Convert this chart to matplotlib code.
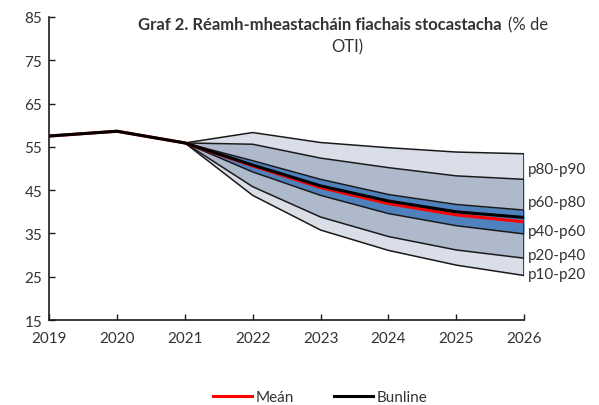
import matplotlib.pyplot as plt

plt.rcParams['font.family'] = ['Lato', 'DejaVu Sans']

# historia
anni_hist = [2019, 2020, 2021]
fiach_hist = [57.5, 58.6, 55.9]

# réamh-mheastacháin
anni = [2021, 2022, 2023, 2024, 2025, 2026]
p90 = [55.9, 58.3, 56.0, 54.8, 53.8, 53.4]
p80 = [55.9, 55.6, 52.4, 50.2, 48.3, 47.5]
p60 = [55.9, 51.8, 47.5, 44.0, 41.7, 40.4]
bunline = [55.9, 50.8, 46.0, 42.5, 40.0, 38.7]
mean = [55.9, 50.6, 45.6, 41.9, 39.3, 37.7]
p40 = [55.9, 49.2, 43.8, 39.6, 36.8, 34.9]
p20 = [55.9, 45.8, 38.8, 34.3, 31.2, 29.3]
p10 = [55.9, 43.8, 35.8, 31.1, 27.7, 25.3]

band_labels = ['p80-p90', 'p60-p80', 'p40-p60', 'p20-p40', 'p10-p20']
label_y = [50.0, 42.3, 35.6, 30.0, 25.6]

light = '#d9dee8'
mid = '#aeb9cc'
blue = '#4f81bd'
txt = '#333333'

fig = plt.figure(figsize=(5.99, 4.06), dpi=100)
ax = fig.add_axes([0.082, 0.209, 0.793, 0.747])

# bandaí
ax.fill_between(anni, p80, p90, color=light, lw=0)
ax.fill_between(anni, p60, p80, color=mid, lw=0)
ax.fill_between(anni, p40, p60, color=blue, lw=0)
ax.fill_between(anni, p20, p40, color=mid, lw=0)
ax.fill_between(anni, p10, p20, color=light, lw=0)

for s in [p90, p80, p60, p40, p20, p10]:
    ax.plot(anni, s, color='#1a1a1a', lw=1.1)
ax.vlines(anni[-1], p10[-1], p90[-1], color='#1a1a1a', lw=1.1)

ax.plot(anni_hist + anni[1:], fiach_hist + mean[1:], color='red', lw=2.2, label='Meán')
ax.plot(anni_hist + anni[1:], fiach_hist + bunline[1:], color='black', lw=2.2, label='Bunline')

for lab, yv in zip(band_labels, label_y):
    ax.text(2026.06, yv, lab, fontsize=11, color=txt, va='center', ha='left')

ax.set_xlim(2019, 2026)
ax.set_ylim(15, 85)
ax.set_xticks(range(2019, 2027))
ax.set_yticks(range(15, 86, 10))
ax.tick_params(direction='in', length=4, width=1, labelsize=11, labelcolor=txt, color='#1a1a1a', pad=5)
ax.tick_params(axis='x', pad=8)
for sp in ['top', 'right']:
    ax.spines[sp].set_visible(False)
for sp in ['left', 'bottom']:
    ax.spines[sp].set_color('#1a1a1a')
    ax.spines[sp].set_linewidth(1.2)

# teideal: cuid throm + cuid ghnáth ar an líne chéanna
t1 = fig.text(0.20, 0.938, 'Graf 2. Réamh-mheastacháin fiachais stocastacha', fontsize=12,
              fontweight='bold', color=txt, ha='left', va='center')
t2 = fig.text(0.5, 0.938, '(% de', fontsize=12, color=txt, ha='left', va='center')
fig.canvas.draw()
r = fig.canvas.get_renderer()
w1 = t1.get_window_extent(r).width / fig.bbox.width
w2 = t2.get_window_extent(r).width / fig.bbox.width
gap = 6 / fig.bbox.width
x0 = 0.573 - (w1 + gap + w2) / 2
t1.set_x(x0)
t2.set_x(x0 + w1 + gap)
fig.text(0.58, 0.884, 'OTI)', fontsize=12, color=txt, ha='center', va='center')

ax.legend(loc='upper center', bbox_to_anchor=(0.57, -0.185), ncol=2, frameon=False,
          fontsize=11, handlelength=2.6, handletextpad=0.2, columnspacing=2.6,
          labelcolor=txt)

fig.savefig('out.png', dpi=100)
